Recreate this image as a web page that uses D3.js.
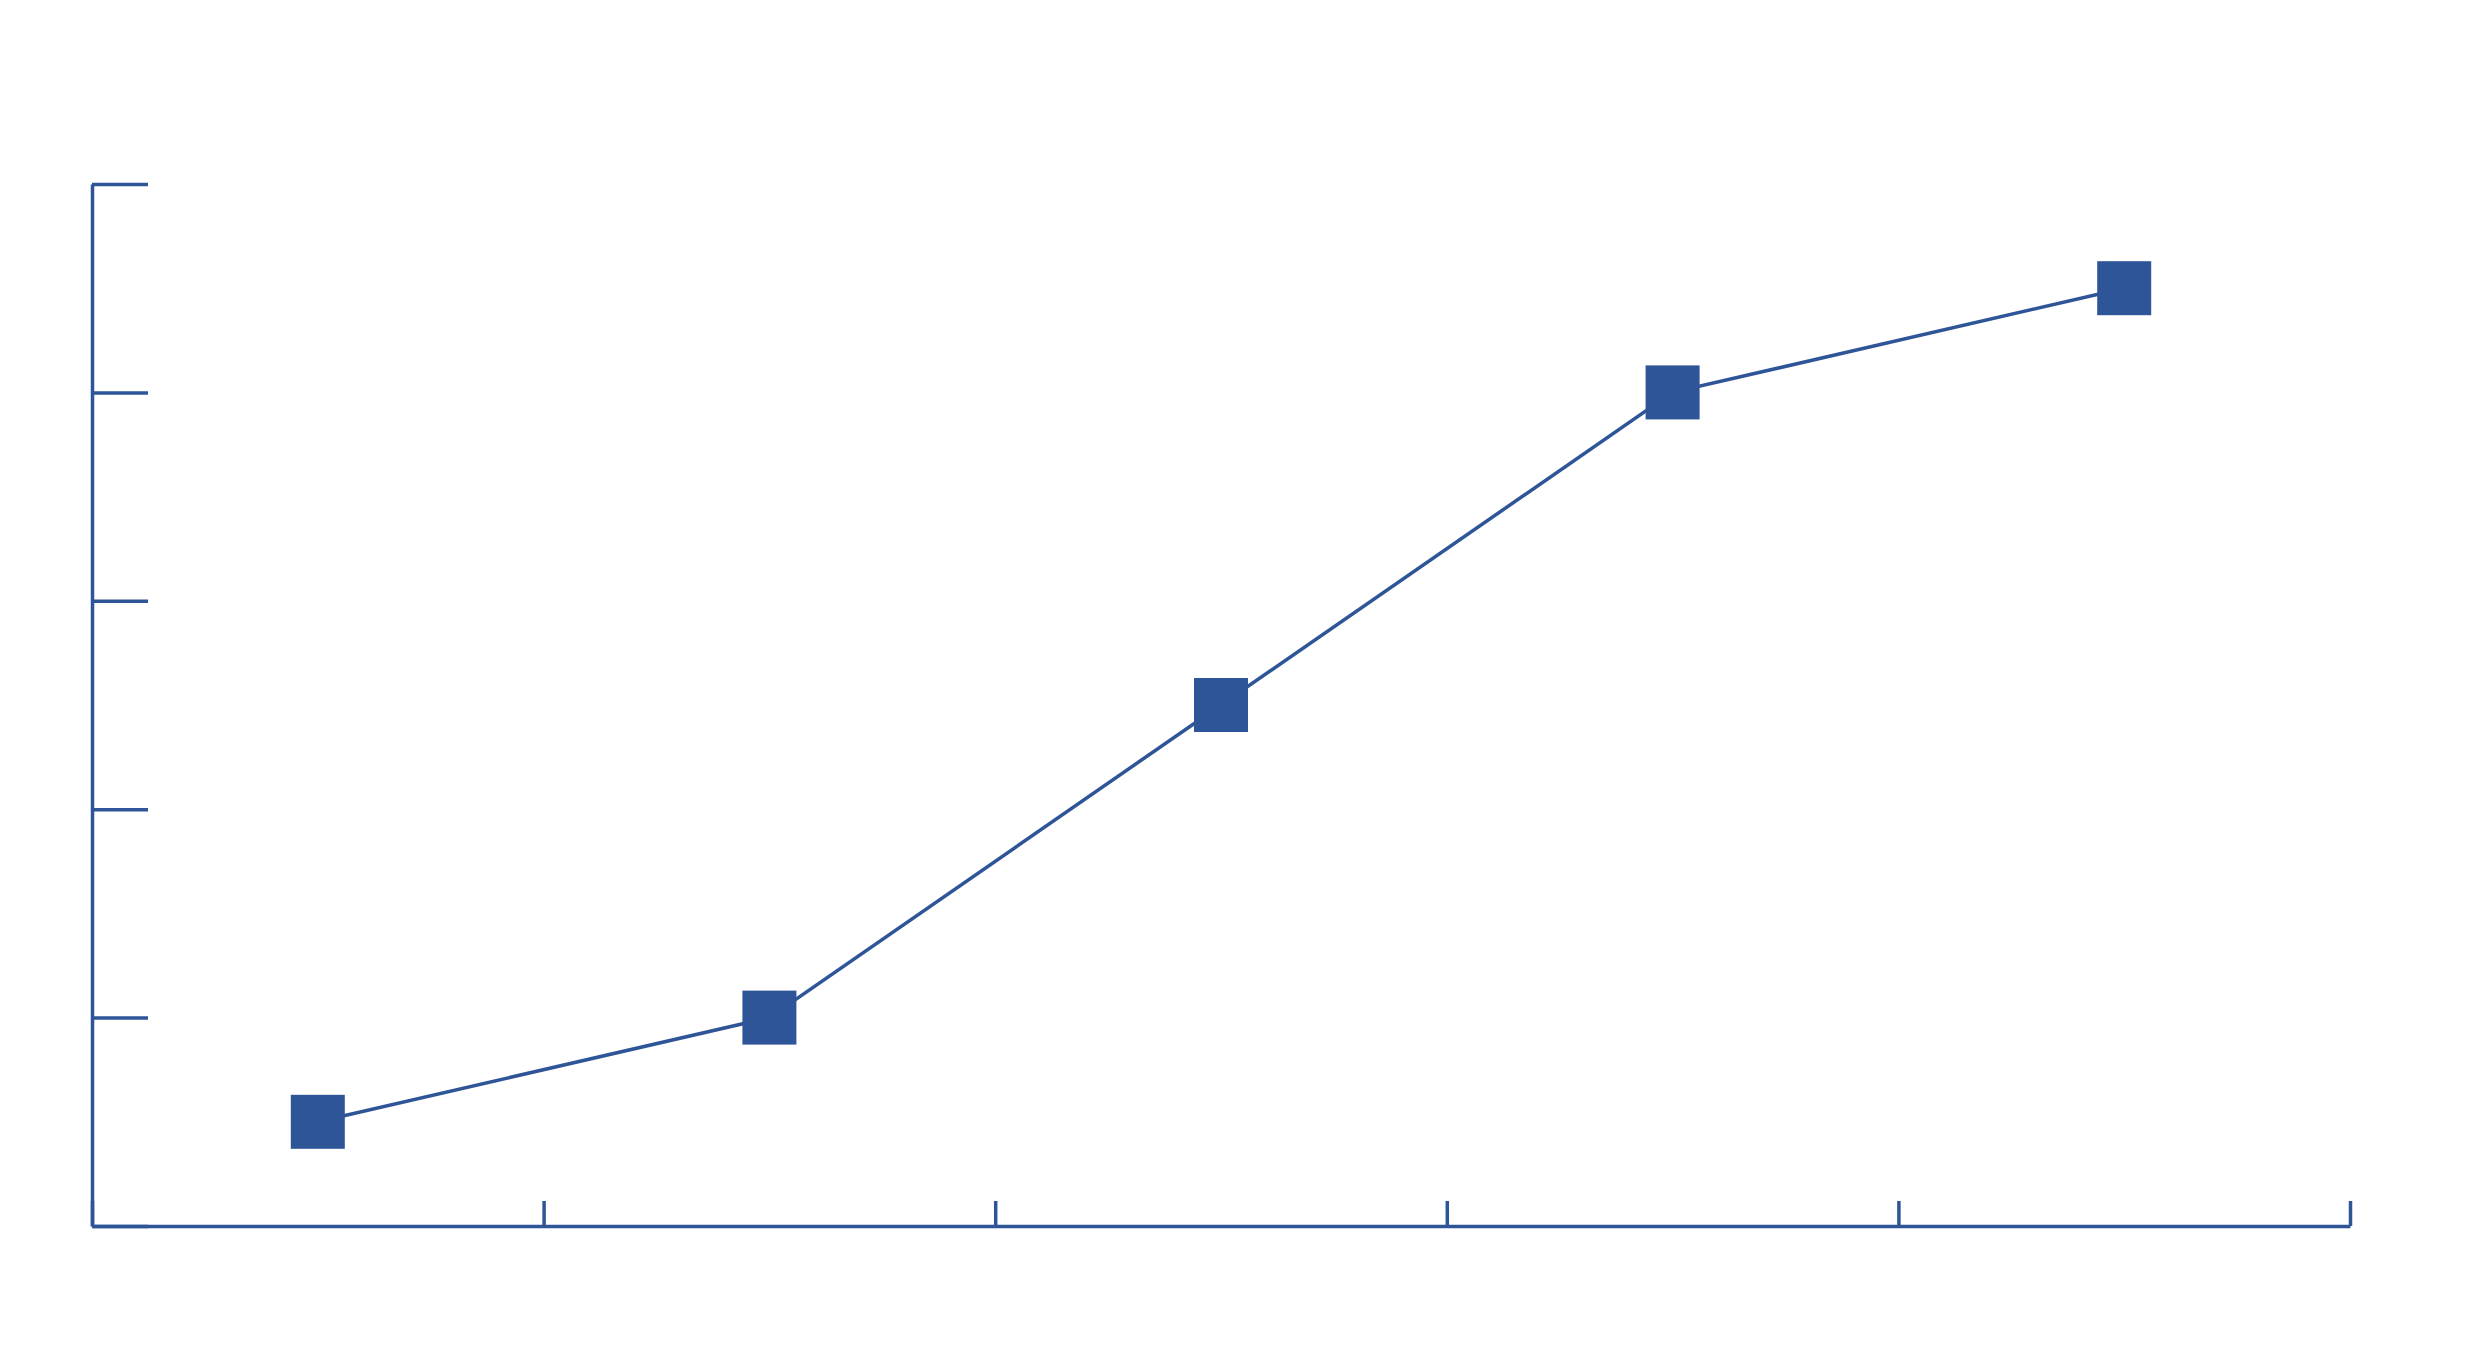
<!DOCTYPE html>
<html><head><meta charset="utf-8">
<script src="https://cdn.jsdelivr.net/npm/d3@7"></script>
<style>html,body{margin:0;padding:0;background:#fff;}svg{display:block;}</style>
</head><body>
<script>
const categories = [1, 2, 3, 4, 5];
const values = [0.5, 1, 2.5, 4, 4.5];
const yTicks = [0, 1, 2, 3, 4, 5];
const xTicks = [0, 1, 2, 3, 4, 5];

const W = 2484, H = 1361;
const color = "#2E5597";
const svg = d3.select("body").append("svg").attr("width", W).attr("height", H);

const x = d3.scaleLinear().domain([0, categories.length]).range([92, 2350]);
const y = d3.scaleLinear().domain([0, 5]).range([1226, 184]);

const gy = svg.append("g").attr("transform", `translate(${x(0)},0)`)
  .call(d3.axisLeft(y).tickValues(yTicks).tickSize(-56).tickSizeOuter(0).tickFormat(""));
const gx = svg.append("g").attr("transform", `translate(0,${y(0)})`)
  .call(d3.axisBottom(x).tickValues(xTicks).tickSize(-25).tickSizeOuter(0).tickFormat(""));
[gy, gx].forEach(g => {
  g.selectAll("path,line").attr("stroke", color).attr("stroke-width", 3.5);
});

const pts = categories.map((c, i) => [x(i + 0.5), y(values[i])]);
svg.append("path").datum(pts)
  .attr("d", d3.line())
  .attr("fill", "none").attr("stroke", color).attr("stroke-width", 3.5);

const s = 54;
svg.selectAll("rect.m").data(pts).enter().append("rect")
  .attr("class", "m")
  .attr("x", d => d[0] - s / 2).attr("y", d => d[1] - s / 2)
  .attr("width", s).attr("height", s)
  .attr("fill", color);
</script>
</body></html>
